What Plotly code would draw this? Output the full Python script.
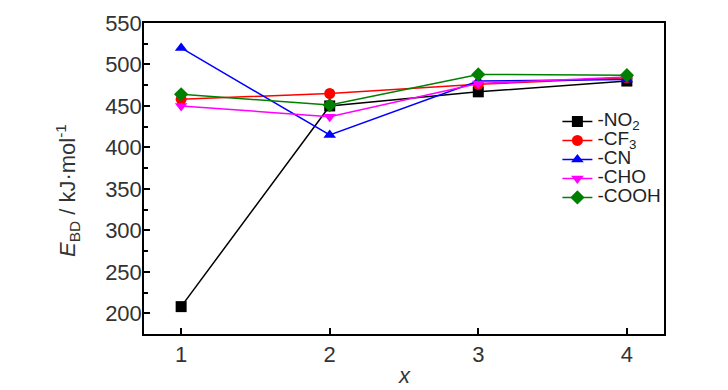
import plotly.graph_objects as go

x_vals = [1, 2, 3, 4]
no2 = [208, 450, 467, 480]
cf3 = [458, 465, 476, 484]
cn = [520, 415, 480, 482]
cho = [450, 437, 477, 485]
cooh = [464, 451, 488, 487]

series = [
    ("-NO<sub>2</sub>", no2, "black", "square"),
    ("-CF<sub>3</sub>", cf3, "red", "circle"),
    ("-CN", cn, "blue", "triangle-up"),
    ("-CHO", cho, "magenta", "triangle-down"),
    ("-COOH", cooh, "green", "diamond"),
]

FONT = "Liberation Sans, Arial"

fig = go.Figure()
for name, vals, color, sym in series:
    fig.add_trace(go.Scatter(
        x=x_vals, y=vals, mode="lines+markers",
        name='<span style="font-size:19px">' + name + "</span>",
        line=dict(color=color, width=1.5),
        marker=dict(symbol=sym, size=11, color=color),
    ))

fig.add_annotation(
    text="<i>E</i><sub>BD</sub> / kJ·mol<sup>-1</sup>",
    xref="paper", yref="paper", x=-0.146, y=0.46,
    xanchor="center", yanchor="middle", textangle=-90, showarrow=False,
    font=dict(family=FONT, size=22, color="#333333"),
)
fig.add_annotation(
    text="<i>x</i>",
    xref="paper", yref="paper", x=0.5, y=-0.132,
    xanchor="center", yanchor="middle", showarrow=False,
    font=dict(family=FONT, size=22, color="#333333"),
)

fig.update_layout(
    width=720, height=382,
    margin=dict(l=136, r=64, t=15, b=56),
    plot_bgcolor="white", paper_bgcolor="white",
    font=dict(family=FONT, size=22, color="#333333"),
    showlegend=True,
    legend=dict(
        x=0.795, y=0.730, xanchor="left", yanchor="top",
        bgcolor="rgba(0,0,0,0)", font=dict(family=FONT, size=12, color="#222222"),
        tracegroupgap=0, itemwidth=30,
    ),
    xaxis=dict(
        range=[0.75, 4.25], tickvals=x_vals, ticktext=["1", "2", "3", "4"],
        ticks="inside", ticklen=6, tickwidth=1.5, tickcolor="black",
        showline=True, linecolor="black", linewidth=1.5, mirror=True,
        showgrid=False, zeroline=False, automargin=False,
    ),
    yaxis=dict(
        range=[175, 550], tickvals=[200, 250, 300, 350, 400, 450, 500, 550],
        ticks="inside", ticklen=6, tickwidth=1.5, tickcolor="black",
        ticklabelstandoff=-4, automargin=False,
        minor=dict(tickvals=[225, 275, 325, 375, 425, 475, 525], ticks="inside",
                   ticklen=4, tickwidth=1.5, tickcolor="black"),
        showline=True, linecolor="black", linewidth=1.5, mirror=True,
        showgrid=False, zeroline=False,
    ),
)

fig.write_html("out.html")
